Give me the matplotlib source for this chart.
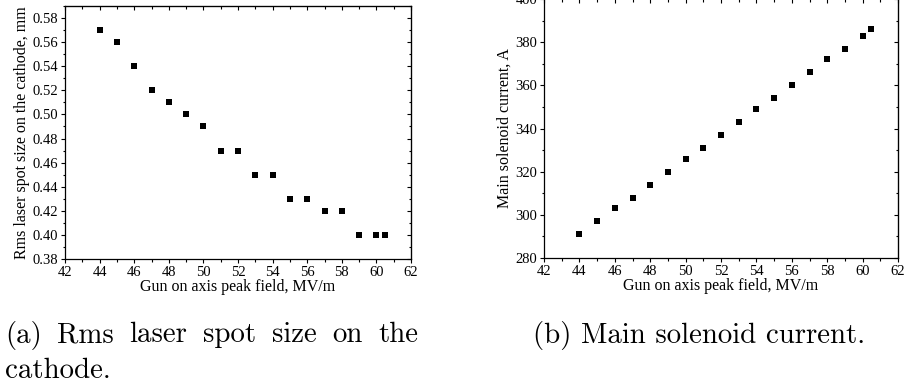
import matplotlib
matplotlib.use("Agg")
import matplotlib.pyplot as plt
from matplotlib.ticker import MultipleLocator

# Data
field = [44, 45, 46, 47, 48, 49, 50, 51, 52, 53, 54, 55, 56, 57, 58, 59, 60, 60.5]
spot_size = [0.57, 0.56, 0.54, 0.52, 0.51, 0.50, 0.49, 0.47, 0.47, 0.45, 0.45,
             0.43, 0.43, 0.42, 0.42, 0.40, 0.40, 0.40]
solenoid = [291, 297, 303, 308, 314, 320, 326, 331, 337, 343, 349, 354, 360,
            366, 372, 377, 383, 386]

xlabel = "Gun on axis peak field, MV/m"
ylabel_a = "Rms laser spot size on the cathode, mm"
ylabel_b = "Main solenoid current, A"
caption_a1 = "(a) Rms laser spot size on the"
caption_a2 = "cathode."
caption_b = "(b) Main solenoid current."

plt.rcParams['font.family'] = ['Liberation Serif', 'DejaVu Serif']

fig = plt.figure(figsize=(9.09, 3.87), dpi=100)
W, H = 909, 387

def px_axes(x0, x1, ytop, ybot):
    return fig.add_axes([x0 / W, (H - ybot) / H, (x1 - x0) / W, (ybot - ytop) / H])

ax1 = px_axes(65, 411, 6, 259)
ax2 = px_axes(544, 898, -1, 258)

def style(ax, ymin, ymax, ymaj, ymin_step, fmt):
    ax.set_xlim(42, 62)
    ax.set_ylim(ymin, ymax)
    ax.xaxis.set_major_locator(MultipleLocator(2))
    ax.xaxis.set_minor_locator(MultipleLocator(1))
    ax.yaxis.set_major_locator(MultipleLocator(ymaj))
    ax.yaxis.set_minor_locator(MultipleLocator(ymin_step))
    ax.yaxis.set_major_formatter(plt.FormatStrFormatter(fmt))
    ax.tick_params(which='major', direction='out', length=3.2, width=0.8,
                   labelsize=10.5, pad=1.5, color='black')
    ax.tick_params(which='minor', direction='out', length=1.8, width=0.8)
    for s in ax.spines.values():
        s.set_linewidth(0.9)
    ax.set_xlabel(xlabel, fontsize=11.5, labelpad=0.5)
    top = ax.secondary_xaxis('top')
    top.xaxis.set_major_locator(MultipleLocator(2))
    top.xaxis.set_minor_locator(MultipleLocator(1))
    top.tick_params(which='major', direction='in', length=3.2, width=0.8, labeltop=False)
    top.tick_params(which='minor', direction='in', length=1.8, width=0.8)
    right = ax.secondary_yaxis('right')
    right.yaxis.set_major_locator(MultipleLocator(ymaj))
    right.yaxis.set_minor_locator(MultipleLocator(ymin_step))
    right.tick_params(which='major', direction='in', length=3.2, width=0.8, labelright=False)
    right.tick_params(which='minor', direction='in', length=1.8, width=0.8)

style(ax1, 0.38, 0.59, 0.02, 0.01, '%.2f')
ax1.plot(field, spot_size, 's', color='black', markersize=4.6, markeredgewidth=0)
ax1.set_ylabel(ylabel_a, fontsize=11.5, labelpad=2)

style(ax2, 280, 400, 20, 10, '%d')
ax2.plot(field, solenoid, 's', color='black', markersize=4.6, markeredgewidth=0)
ax2.set_ylabel(ylabel_b, fontsize=11.5, labelpad=2)

cap_kw = dict(family='cmr10', fontsize=20.8, va='baseline', ha='left')

# justified first line of caption (a): spread words between x=5 and x=418 px
renderer = fig.canvas.get_renderer()
words = caption_a1.split(" ")
texts = [fig.text(0, 1 - 342.5 / H, w, **cap_kw) for w in words]
widths = [t.get_window_extent(renderer).width for t in texts]
left_px, right_px = 5, 418
gap = (right_px - left_px - sum(widths)) / (len(words) - 1)
x = left_px
for t, w in zip(texts, widths):
    t.set_x(x / W)
    x += w + gap

fig.text(5 / W, 1 - 378 / H, caption_a2, **cap_kw)
fig.text(533 / W, 1 - 342.5 / H, caption_b, **cap_kw)

fig.savefig("out.png", dpi=100)
